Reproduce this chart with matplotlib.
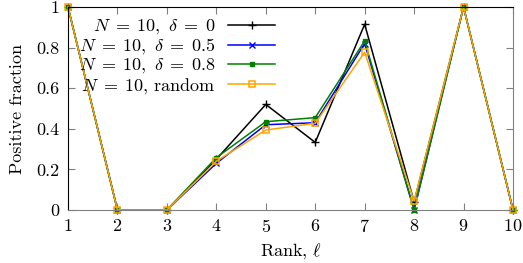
import matplotlib
matplotlib.use("Agg")
import matplotlib.pyplot as plt

plt.rcParams["font.family"] = ["cmr10"]
plt.rcParams["mathtext.fontset"] = "cm"
plt.rcParams["axes.formatter.use_mathtext"] = True

rank = [1, 2, 3, 4, 5, 6, 7, 8, 9, 10]
delta_0 = [1.0, 0.0, 0.0, 0.25, 0.52, 0.333, 0.915, 0.04, 1.0, 0.0]
delta_05 = [1.0, 0.0, 0.0, 0.23, 0.42, 0.43, 0.82, 0.0, 1.0, 0.0]
delta_08 = [1.0, 0.0, 0.0, 0.258, 0.435, 0.455, 0.833, 0.0, 1.0, 0.0]
random_ = [1.0, 0.0, 0.0, 0.24, 0.394, 0.427, 0.777, 0.044, 1.0, 0.0]

fig = plt.figure(figsize=(5.23, 2.63), dpi=100)
ax = fig.add_axes([68 / 523, 1 - 210 / 263, (513 - 68) / 523, (210 - 7) / 263])

ax.plot(rank, delta_0, color="black", marker="+", ms=6, lw=1.1,
        clip_on=False, label=r"$N\;=\;10,\ \delta\;=\;0$")
ax.plot(rank, delta_05, color="blue", marker="x", ms=4, lw=1.1,
        clip_on=False, label=r"$N\;=\;10,\ \delta\;=\;0.5$")
ax.plot(rank, delta_08, color="green", marker="s", ms=3.5, lw=1.1,
        clip_on=False, label=r"$N\;=\;10,\ \delta\;=\;0.8$")
ax.plot(rank, random_, color="orange", marker="s", ms=5, lw=1.1,
        mfc="none", mew=1.1, clip_on=False, label=r"$N\;=\;10$, random")

ax.set_xlim(1, 10)
ax.set_ylim(0, 1)
ax.set_xticks(rank)
ax.set_yticks([0, 0.2, 0.4, 0.6, 0.8, 1])
ax.set_yticklabels(["0", "0.2", "0.4", "0.6", "0.8", "1"])
ax.tick_params(direction="in", top=True, right=True, length=5,
               labelsize=13, color="gray", pad=6)
ax.spines["top"].set_color("black")
ax.spines["left"].set_color("black")
ax.spines["bottom"].set_color("gray")
ax.spines["right"].set_color("gray")

ax.set_xlabel(r"Rank, $\ell$", fontsize=13, labelpad=4)
ax.set_ylabel("Positive fraction", fontsize=13, labelpad=8)

ax.legend(loc="upper left", bbox_to_anchor=(0.0, 1.0), frameon=False,
          markerfirst=False, fontsize=13, handlelength=2.6,
          handletextpad=0.7, labelspacing=0.0, borderaxespad=0.2)

fig.savefig("out.png", dpi=100)
